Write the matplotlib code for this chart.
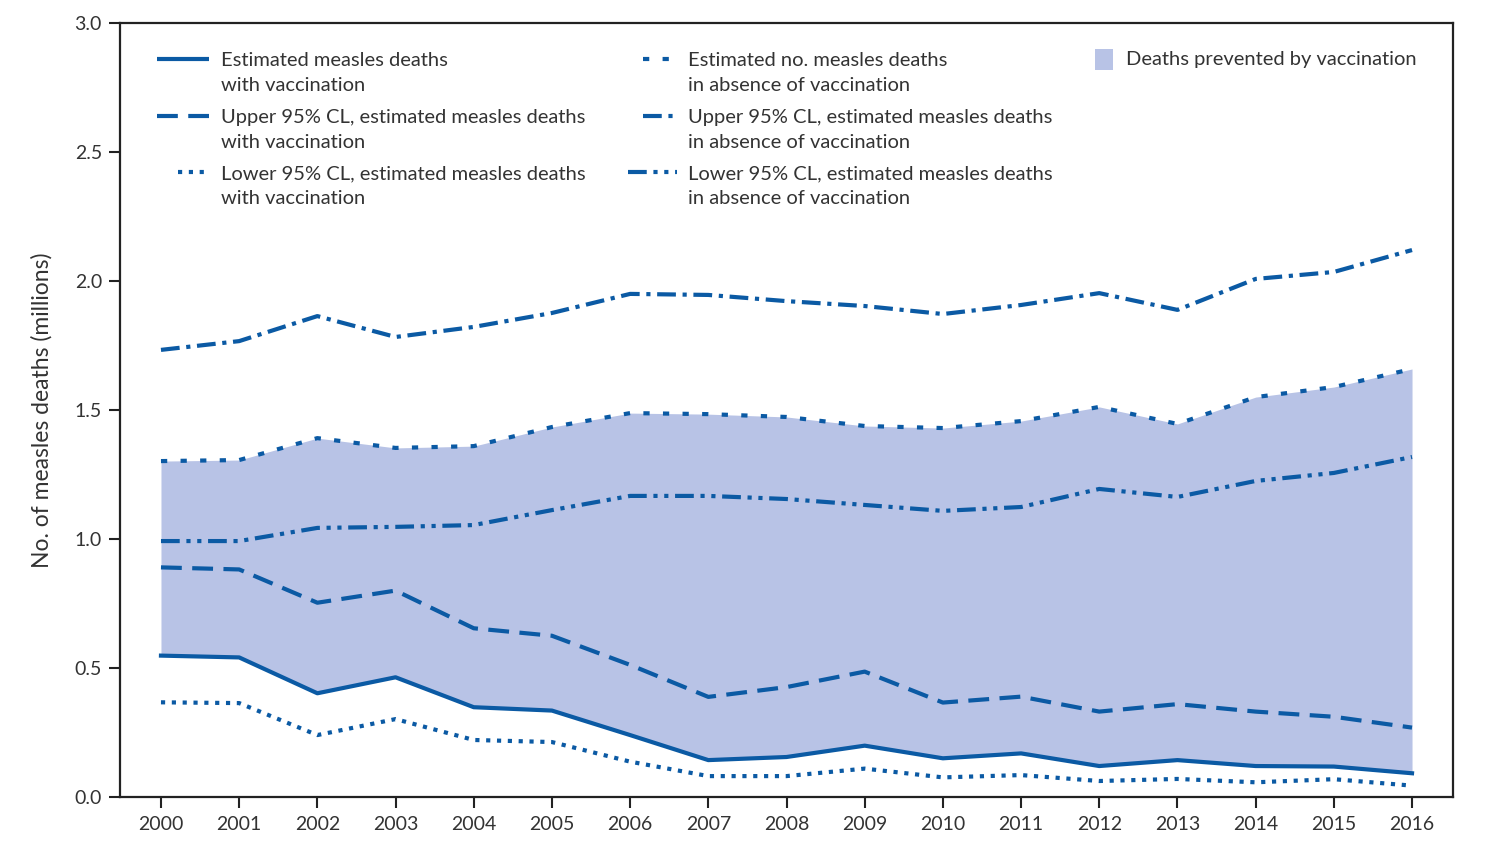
import matplotlib.pyplot as plt
import numpy as np
from matplotlib.patches import Rectangle

years = np.arange(2000, 2017)

# millions of deaths
with_vacc = [0.548, 0.541, 0.402, 0.464, 0.348, 0.335, 0.240, 0.143, 0.155,
             0.199, 0.150, 0.169, 0.120, 0.143, 0.120, 0.118, 0.092]
with_vacc_upper = [0.890, 0.882, 0.753, 0.800, 0.654, 0.625, 0.512, 0.388, 0.426,
                   0.486, 0.366, 0.389, 0.331, 0.360, 0.331, 0.311, 0.269]
with_vacc_lower = [0.367, 0.364, 0.240, 0.302, 0.221, 0.213, 0.137, 0.081, 0.081,
                   0.110, 0.076, 0.085, 0.062, 0.070, 0.057, 0.069, 0.044]
no_vacc = [1.302, 1.306, 1.391, 1.353, 1.360, 1.434, 1.488, 1.484, 1.473,
           1.438, 1.430, 1.457, 1.512, 1.446, 1.550, 1.589, 1.659]
no_vacc_upper = [1.733, 1.767, 1.864, 1.783, 1.822, 1.876, 1.950, 1.946, 1.922,
                 1.903, 1.872, 1.907, 1.953, 1.888, 2.008, 2.035, 2.120]
no_vacc_lower = [0.992, 0.992, 1.043, 1.047, 1.054, 1.112, 1.167, 1.167, 1.155,
                 1.132, 1.109, 1.124, 1.194, 1.163, 1.225, 1.256, 1.318]

labels = [
    "Estimated measles deaths\nwith vaccination",
    "Upper 95% CL, estimated measles deaths\nwith vaccination",
    "Lower 95% CL, estimated measles deaths\nwith vaccination",
    "Estimated no. measles deaths\nin absence of vaccination",
    "Upper 95% CL, estimated measles deaths\nin absence of vaccination",
    "Lower 95% CL, estimated measles deaths\nin absence of vaccination",
    "Deaths prevented by vaccination",
]

blue = "#0b5aa4"
fill_col = "#b8c3e6"
text_col = "#333333"
lw = 3.0

styles = [
    "-",
    (0, (5, 2.5)),
    (0, (1, 1.6)),
    (0, (1.5, 3.2)),
    (0, (4.5, 1.6, 1, 1.6)),
    (0, (4.5, 1.6, 1, 1.6, 1, 1.6)),
]

plt.rcParams['font.family'] = ['Lato', 'DejaVu Sans']

W, H = 1510, 860
fig = plt.figure(figsize=(W / 100, H / 100), dpi=100)
L, R, T, B = 120, 1453, 23, 797
ax = fig.add_axes([L / W, 1 - B / H, (R - L) / W, (B - T) / H])

ax.fill_between(years, with_vacc, no_vacc, color=fill_col, linewidth=0, zorder=1)

series = [with_vacc, with_vacc_upper, with_vacc_lower,
          no_vacc, no_vacc_upper, no_vacc_lower]
for vals, ls in zip(series, styles):
    ax.plot(years, vals, color=blue, lw=lw, linestyle=ls, zorder=3)

ax.set_xlim(1999.476, 2016.524)
ax.set_ylim(0, 3.0)
ax.set_xticks(years)
ax.set_yticks(np.arange(0, 3.01, 0.5))
ax.set_yticklabels([f"{v:.1f}" for v in np.arange(0, 3.01, 0.5)])
ax.tick_params(axis='both', direction='out', length=8, width=1.5,
               labelsize=14, labelcolor=text_col, color='#222222')
ax.tick_params(axis='x', pad=6)
ax.tick_params(axis='y', pad=5)
for s in ax.spines.values():
    s.set_linewidth(1.6)
    s.set_color('#222222')

ax.set_ylabel("No. of measles deaths (millions)", fontsize=16.5,
              color=text_col, labelpad=16)


# hand-placed legend (pixel layout -> axes fraction)
def fx(px):
    return (px - L) / (R - L)


def fy(py):
    return (B - py) / (B - T)


rows_y = [59, 116, 172]
col_handles = [[(157, 209), (157, 209), (178, 209)],
               [(643, 677), (643, 677), (628, 677)]]
col_text_x = [221, 688]

for c in range(2):
    for r in range(3):
        i = c * 3 + r
        x0, x1 = col_handles[c][r]
        y = rows_y[r]
        ax.plot([fx(x0), fx(x1)], [fy(y), fy(y)], transform=ax.transAxes,
                color=blue, lw=lw, linestyle=styles[i], clip_on=False,
                solid_capstyle='butt', dash_capstyle='butt')
        ax.text(fx(col_text_x[c]), fy(y + 14), labels[i], transform=ax.transAxes,
                fontsize=14.5, color=text_col, va='center', ha='left',
                linespacing=1.58)

ax.add_patch(Rectangle((fx(1095), fy(70)), fx(1113) - fx(1095), fy(49) - fy(70),
                       transform=ax.transAxes, facecolor=fill_col,
                       edgecolor='none', clip_on=False))
ax.text(fx(1126), fy(60), labels[6], transform=ax.transAxes, fontsize=14.5,
        color=text_col, va='center', ha='left')

fig.savefig("out.png", dpi=100)
